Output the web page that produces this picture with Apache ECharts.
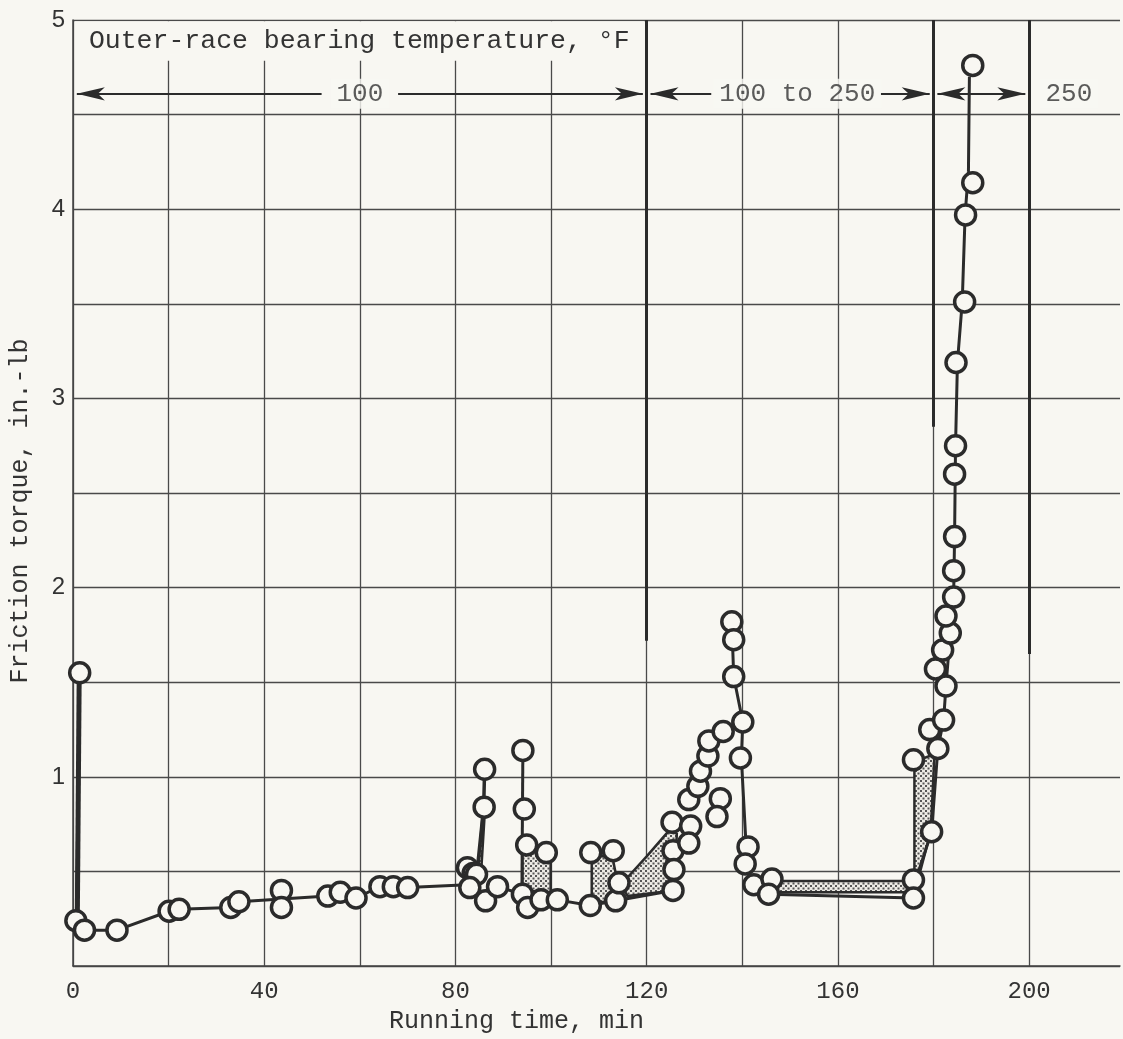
<!DOCTYPE html>
<html>
<head>
<meta charset="utf-8">
<style>
  html, body { margin: 0; padding: 0; background: #f8f7f2; }
  #chart { width: 1123px; height: 1039px; }
</style>
<script src="https://cdn.jsdelivr.net/npm/echarts@6/dist/echarts.min.js"></script>
</head>
<body>
<div id="chart"></div>
<script>
// 参考图：轴承摩擦力矩随运行时间变化
var bg = '#f8f7f2';
var ink = '#2b2b2b';
var mono = '"Liberation Mono", "DejaVu Sans Mono", monospace';

// 坐标轴刻度
var xLabels = [0, 40, 80, 120, 160, 200];
var yLabels = [1, 2, 3, 4, 5];

// 所有数据点 (运行时间 min, 摩擦力矩 in.-lb)
var points = [
  [1.4, 1.55], [0.6, 0.24], [2.4, 0.19], [9.2, 0.19], [20.1, 0.29], [22.2, 0.30],
  [33, 0.31], [34.7, 0.34], [43.6, 0.40], [43.6, 0.31], [53.3, 0.37], [55.9, 0.39],
  [59.2, 0.36], [64.2, 0.42], [67, 0.42], [70, 0.415],
  [82.5, 0.52], [83.7, 0.49], [84.4, 0.485], [83, 0.415], [86.1, 1.04], [86, 0.84],
  [86.3, 0.345], [88.8, 0.42],
  [94.1, 1.14], [94.4, 0.83], [94.9, 0.64], [94, 0.38], [95.1, 0.31], [99, 0.60],
  [97.9, 0.35], [101.3, 0.35],
  [108.2, 0.32], [108.3, 0.60], [113, 0.61], [113.5, 0.345], [114.2, 0.44],
  [125.3, 0.76], [125.5, 0.61], [125.7, 0.51], [125.5, 0.40],
  [129.2, 0.74], [128.8, 0.65], [128.8, 0.88], [130.7, 0.95], [131.25, 1.03],
  [132.8, 1.11], [133, 1.19], [136, 1.24], [135.4, 0.885], [134.7, 0.79],
  [137.8, 1.82], [138.2, 1.725], [138.2, 1.53], [140.1, 1.29], [139.6, 1.10],
  [141.2, 0.63], [140.6, 0.54], [142.4, 0.43], [146.2, 0.46], [145.5, 0.38],
  [175.8, 0.455], [175.8, 0.36], [175.8, 1.09], [179.6, 0.71], [180.9, 1.15],
  [179.2, 1.25], [182.1, 1.30], [182.6, 1.48], [180.4, 1.57], [181.9, 1.67],
  [183.5, 1.76], [182.6, 1.85], [184.2, 1.95], [184.2, 2.09], [184.4, 2.27],
  [184.4, 2.60], [184.6, 2.75], [184.7, 3.19], [186.5, 3.51], [186.7, 3.97],
  [188.2, 4.14], [188.2, 4.76]
];

// 连线
var baseLine = [
  [1.4, 1.55], [0.7, 0.24], [2.4, 0.19], [9.2, 0.19], [20.1, 0.29], [22.2, 0.30],
  [33, 0.31], [34.7, 0.34], [43.6, 0.355], [53.3, 0.37], [55.9, 0.39], [59.2, 0.36],
  [64.2, 0.42], [70, 0.415], [82.5, 0.43], [83, 0.415], [86.3, 0.345], [88.8, 0.42],
  [94, 0.38], [95.1, 0.31], [97.9, 0.35], [101.3, 0.35], [108.2, 0.32],
  [113.5, 0.345], [125.5, 0.40]
];
var startSpike = [[1.3, 1.55], [0.9, 0.24]];
var spike86 = [[84.4, 0.47], [85.9, 0.84], [86.1, 1.04]];
var spike94 = [[93.9, 0.40], [94.1, 1.14]];
var spike138 = [[137.8, 1.82], [138.2, 1.53], [140.1, 1.29], [139.8, 1.10], [140.8, 0.63],
  [140.8, 0.54], [142.4, 0.43], [146.2, 0.45]];
var lowerRun = [[142.4, 0.43], [145.5, 0.38], [175.8, 0.36]];
var finalRise = [[176.6, 0.48], [179.6, 0.71], [180.9, 1.15], [182.1, 1.30], [182.6, 1.48],
  [183.5, 1.76], [184.2, 1.95], [184.4, 2.27], [184.6, 2.75], [185.0, 3.19],
  [186.0, 3.51], [186.6, 3.97], [187.3, 4.2], [187.5, 4.7]];

// 点状阴影区域
var fills = [
  [[84.6, 0.47], [85.8, 0.84], [86.2, 0.84], [85.3, 0.47]],
  [[94.0, 0.63], [98.6, 0.60], [99.9, 0.55], [99.9, 0.39], [94.0, 0.40]],
  [[108.5, 0.58], [112.8, 0.58], [113.6, 0.48], [114.2, 0.43], [113.3, 0.35], [108.5, 0.33]],
  [[114.6, 0.43], [120, 0.58], [124.8, 0.72], [126.3, 0.70], [125.8, 0.40], [116, 0.37]],
  [[146.5, 0.45], [175.5, 0.45], [175.5, 0.39], [146.5, 0.39]],
  [[176, 1.08], [180.2, 1.12], [179.4, 0.71], [177.2, 0.50], [176, 0.47]]
];

// 温度分区
var zoneLines = [120, 180, 200];
var zoneLineBottom = [1.72, 2.85, 1.65];
var zoneTexts = [[60, '100'], [151.5, '100 to 250'], [203, '250']];
var arrowY = 4.61;

// 竖向网格线颜色（最右一条隐藏）
var gridCol = '#4a4a4a';
var xSplitColors = [gridCol, gridCol, gridCol, gridCol, gridCol, gridCol,
  gridCol, gridCol, gridCol, gridCol, gridCol, 'rgba(0,0,0,0)'];

function stipple() {
  var c = document.createElement('canvas');
  c.width = 5; c.height = 5;
  var g = c.getContext('2d');
  g.fillStyle = '#eceae4';
  g.fillRect(0, 0, 5, 5);
  g.fillStyle = '#555';
  g.fillRect(0, 0, 2, 2);
  g.fillRect(2.5, 2.5, 2, 2);
  return c;
}
var dots = stipple();

function lineSeries(data, w) {
  return {
    type: 'line', data: data, showSymbol: false, silent: true, z: 3,
    lineStyle: { color: ink, width: w }
  };
}

var myChart = echarts.init(document.getElementById('chart'));

var option = {
  backgroundColor: bg,
  animation: false,
  grid: { left: 72, top: 20, right: 0, bottom: 71 },
  xAxis: {
    type: 'value', min: 0, max: 219, interval: 20,
    name: 'Running time, min', nameLocation: 'middle', nameGap: 38,
    nameTextStyle: { fontFamily: mono, fontSize: 25, color: '#333', padding: [0, 160, 0, 0] },
    axisLine: { lineStyle: { color: '#444', width: 1.5 } },
    axisTick: { show: false },
    axisLabel: {
      fontFamily: mono, fontSize: 24, color: '#333', margin: 14,
      formatter: function (v) { return xLabels.indexOf(v) >= 0 ? String(v) : ''; }
    },
    splitLine: { showMaxLine: false, lineStyle: { color: xSplitColors, width: 1.3 } }
  },
  yAxis: {
    type: 'value', min: 0, max: 5, interval: 0.5,
    name: 'Friction torque, in.-lb', nameLocation: 'middle', nameGap: 40,
    nameTextStyle: { fontFamily: mono, fontSize: 25, color: '#333', padding: [0, 36, 0, 0] },
    axisLine: { show: true, lineStyle: { color: '#444', width: 1.5 } },
    axisTick: { show: false },
    axisLabel: {
      fontFamily: '"Liberation Sans", Arial, sans-serif', fontSize: 24, color: '#333', margin: 8,
      formatter: function (v) { return yLabels.indexOf(v) >= 0 ? String(v) : ''; }
    },
    splitLine: { lineStyle: { color: gridCol, width: 1.3 } }
  },
  series: [
    {
      // 标题框和分区标注
      type: 'line', data: [], silent: true, z: 2,
      markArea: {
        silent: true,
        itemStyle: { color: bg },
        label: {
          show: true, position: 'insideLeft', distance: 14,
          fontFamily: mono, fontSize: 26.5, color: '#333'
        },
        data: [[{ coord: [0.4, 4.785], name: 'Outer-race bearing temperature, °F' }, { coord: [119.5, 4.993] }]]
      },
      markLine: {
        silent: true, symbol: 'none',
        label: { show: false },
        lineStyle: { color: ink, width: 2, type: 'solid' },
        data: zoneLines.map(function (x, i) {
          return [{ coord: [x, 5], lineStyle: { width: 3 } }, { coord: [x, zoneLineBottom[i]] }];
        }).concat([
          [{ coord: [0.8, arrowY], symbol: 'arrow', symbolSize: [10, 28] }, { coord: [52, arrowY], symbol: 'none' }],
          [{ coord: [68, arrowY], symbol: 'none' }, { coord: [119.2, arrowY], symbol: 'arrow', symbolSize: [10, 28] }],
          [{ coord: [120.8, arrowY], symbol: 'arrow', symbolSize: [10, 28] }, { coord: [133.5, arrowY], symbol: 'none' }],
          [{ coord: [169, arrowY], symbol: 'none' }, { coord: [179.2, arrowY], symbol: 'arrow', symbolSize: [10, 28] }],
          [{ coord: [180.8, arrowY], symbol: 'arrow', symbolSize: [10, 28] }, { coord: [199.2, arrowY], symbol: 'arrow', symbolSize: [10, 28] }]
        ])
      }
    },
    {
      type: 'scatter', silent: true, z: 4, symbolSize: 0,
      data: zoneTexts.map(function (t) { return { value: [t[0], arrowY], name: t[1] }; }),
      label: {
        show: true, position: 'inside', formatter: '{b}',
        fontFamily: mono, fontSize: 26, color: '#333',
        backgroundColor: bg, padding: [2, 6]
      },
      labelLayout: function (p) {
        return p.dataIndex === 2 ? { dx: (p.labelRect.width / 2) - 4 } : {};
      }
    },
    {
      type: 'custom', silent: true, z: 2,
      data: fills.map(function (f, i) { return [i]; }),
      renderItem: function (params, api) {
        var poly = fills[api.value(0)];
        return {
          type: 'polygon',
          shape: { points: poly.map(function (p) { return api.coord(p); }) },
          style: { fill: { image: dots, repeat: 'repeat' }, stroke: ink, lineWidth: 2.5 }
        };
      }
    },
    lineSeries(baseLine, 3),
    lineSeries(startSpike, 5),
    lineSeries(spike86, 3.5),
    lineSeries(spike94, 3),
    lineSeries(spike138, 3),
    lineSeries(lowerRun, 3),
    lineSeries(finalRise, 3),
    {
      type: 'scatter', data: points, silent: true, z: 5,
      symbol: 'circle', symbolSize: 20,
      itemStyle: { color: bg, borderColor: ink, borderWidth: 3.5, opacity: 1 }
    }
  ]
};

myChart.setOption(option);
</script>
</body>
</html>
